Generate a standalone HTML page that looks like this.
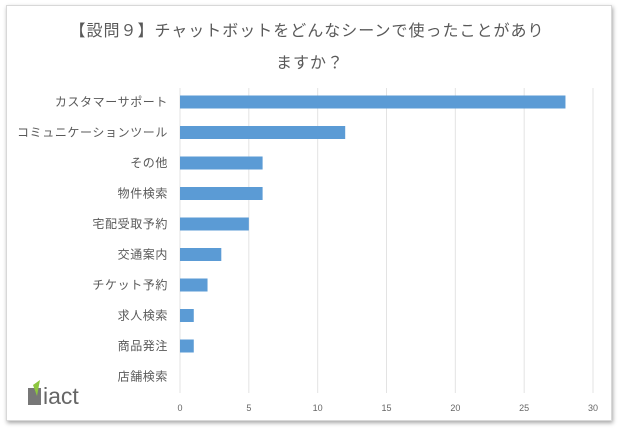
<!DOCTYPE html>
<html><head><meta charset="utf-8"><style>
body{margin:0;background:#fff;width:620px;height:432px;overflow:hidden;font-family:"Liberation Sans","Noto Sans CJK JP",sans-serif}
#card{position:absolute;left:6px;top:5px;width:604px;height:414px;border:1px solid #d8d8d8;box-shadow:1px 2px 4px rgba(0,0,0,0.35);background:#fff}
</style></head><body>
<div id="card"></div>
<svg id="chart" width="620" height="432" style="position:absolute;left:0;top:0">
<text x="307" y="36" text-anchor="middle" font-size="16" letter-spacing="1" fill="#595959">【設問９】チャットボットをどんなシーンで使ったことがあり</text>
<text x="310" y="68" text-anchor="middle" font-size="16" letter-spacing="1" fill="#595959">ますか？</text>
<g>
<rect x="28" y="388" width="13" height="17" fill="#777"/>
<path d="M33 385 L40 380 L37 396 Z" fill="#8dc63f"/>
<text x="43" y="404" font-size="23" fill="#666">iact</text>
</g>
<g id="grid"></g><g id="bars"></g><g id="labels"></g>
</svg>
<script>
const categories=["カスタマーサポート","コミュニケーションツール","その他","物件検索","宅配受取予約","交通案内","チケット予約","求人検索","商品発注","店舗検索"];
const values=[28,12,6,6,5,3,2,1,1,0];
const ticks=[0,5,10,15,20,25,30];
const ns="http://www.w3.org/2000/svg";
const x0=180,x1=593,maxV=30,yTop=88,yBot=393,row0=102,rowStep=30.5,barH=13;
const xs=v=>x0+(x1-x0)*v/maxV;
const ys=i=>row0+i*rowStep;
const grid=document.getElementById('grid'),bars=document.getElementById('bars'),labels=document.getElementById('labels');
ticks.forEach(t=>{
 const l=document.createElementNS(ns,'line');
 l.setAttribute('x1',xs(t));l.setAttribute('x2',xs(t));l.setAttribute('y1',yTop);l.setAttribute('y2',yBot);
 l.setAttribute('stroke','#e3e3e3');l.setAttribute('stroke-width','1');
 
 
 grid.appendChild(l);
 const tx=document.createElementNS(ns,'text');
 tx.setAttribute('x',xs(t));tx.setAttribute('y',411);tx.setAttribute('text-anchor','middle');
 tx.setAttribute('font-size','9');tx.setAttribute('fill','#666');tx.textContent=t;
 
 
 labels.appendChild(tx);
});
categories.forEach((c,i)=>{
 const r=document.createElementNS(ns,'rect');
 r.setAttribute('x',x0);r.setAttribute('y',ys(i)-barH/2);
 r.setAttribute('width',Math.max(0,xs(values[i])-x0));r.setAttribute('height',barH);
 r.setAttribute('fill','#5b9bd5');
 
 
 bars.appendChild(r);
 const tx=document.createElementNS(ns,'text');
 tx.setAttribute('x',168);tx.setAttribute('y',ys(i)+4);tx.setAttribute('text-anchor','end');
 tx.setAttribute('font-size','12');tx.setAttribute('letter-spacing','0.6');tx.setAttribute('fill','#595959');tx.textContent=c;
 
 
 labels.appendChild(tx);
});
</script>
</body></html>
